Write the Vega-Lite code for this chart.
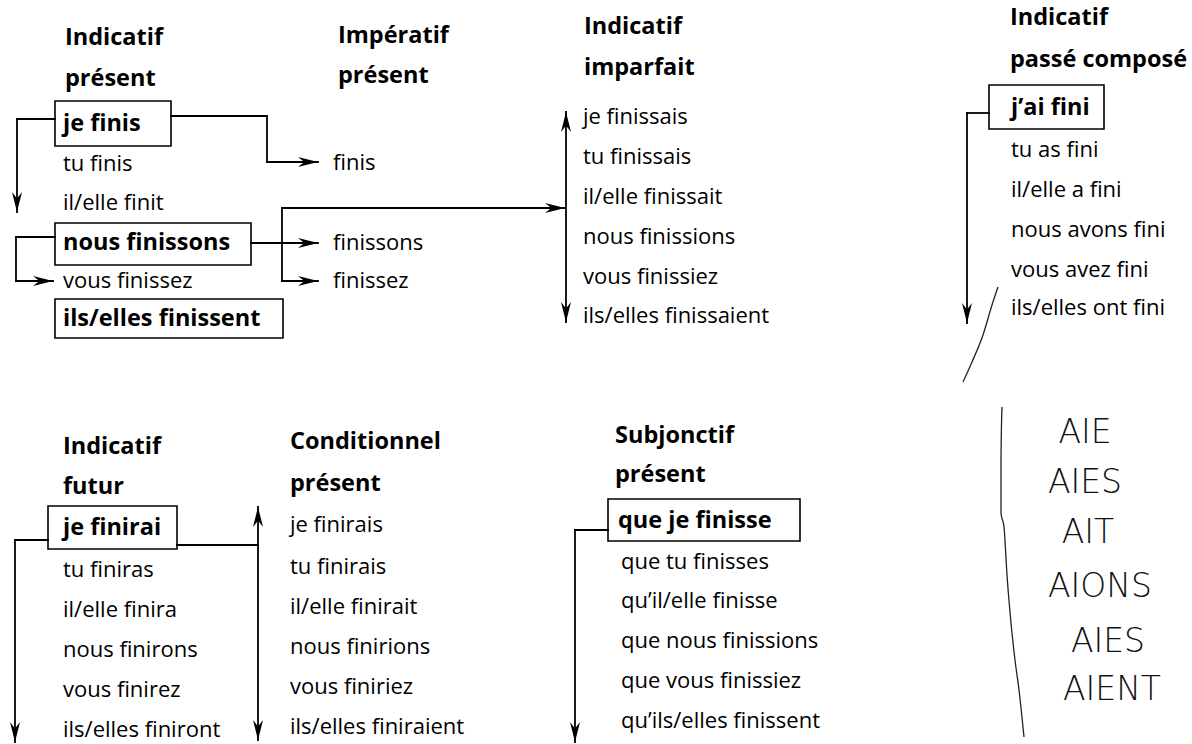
{
  "$schema": "https://vega.github.io/schema/vega-lite/v6.json",
  "width": 1192,
  "height": 744,
  "padding": 0,
  "autosize": {"type": "fit", "contains": "padding"},
  "background": "white",
  "config": {"view": {"stroke": null}},
  "datasets": {
    "headers": [
      {"x": 65, "y": 38, "t": "Indicatif"},
      {"x": 65, "y": 79, "t": "présent"},
      {"x": 338, "y": 36, "t": "Impératif"},
      {"x": 338, "y": 76, "t": "présent"},
      {"x": 584, "y": 27, "t": "Indicatif"},
      {"x": 584, "y": 68, "t": "imparfait"},
      {"x": 1010, "y": 18, "t": "Indicatif"},
      {"x": 1010, "y": 60, "t": "passé composé"},
      {"x": 63, "y": 447, "t": "Indicatif"},
      {"x": 63, "y": 487, "t": "futur"},
      {"x": 290, "y": 442, "t": "Conditionnel"},
      {"x": 290, "y": 484, "t": "présent"},
      {"x": 615, "y": 436, "t": "Subjonctif"},
      {"x": 615, "y": 475, "t": "présent"}
    ],
    "boxed": [
      {"x": 63, "y": 124, "t": "je finis"},
      {"x": 63, "y": 243, "t": "nous finissons"},
      {"x": 63, "y": 319, "t": "ils/elles finissent"},
      {"x": 1011, "y": 108, "t": "j’ai fini"},
      {"x": 63, "y": 528, "t": "je finirai"},
      {"x": 618, "y": 521, "t": "que je finisse"}
    ],
    "forms": [
      {"x": 63, "y": 164, "t": "tu finis"},
      {"x": 63, "y": 203, "t": "il/elle finit"},
      {"x": 63, "y": 281, "t": "vous finissez"},
      {"x": 333, "y": 163, "t": "finis"},
      {"x": 333, "y": 243, "t": "finissons"},
      {"x": 333, "y": 281, "t": "finissez"},
      {"x": 583, "y": 117, "t": "je finissais"},
      {"x": 583, "y": 157, "t": "tu finissais"},
      {"x": 583, "y": 197, "t": "il/elle finissait"},
      {"x": 583, "y": 237, "t": "nous finissions"},
      {"x": 583, "y": 277, "t": "vous finissiez"},
      {"x": 583, "y": 316, "t": "ils/elles finissaient"},
      {"x": 1011, "y": 150, "t": "tu as fini"},
      {"x": 1011, "y": 190, "t": "il/elle a fini"},
      {"x": 1011, "y": 230, "t": "nous avons fini"},
      {"x": 1011, "y": 270, "t": "vous avez fini"},
      {"x": 1011, "y": 308, "t": "ils/elles ont fini"},
      {"x": 63, "y": 570, "t": "tu finiras"},
      {"x": 63, "y": 610, "t": "il/elle finira"},
      {"x": 63, "y": 650, "t": "nous finirons"},
      {"x": 63, "y": 690, "t": "vous finirez"},
      {"x": 63, "y": 730, "t": "ils/elles finiront"},
      {"x": 290, "y": 525, "t": "je finirais"},
      {"x": 290, "y": 567, "t": "tu finirais"},
      {"x": 290, "y": 607, "t": "il/elle finirait"},
      {"x": 290, "y": 647, "t": "nous finirions"},
      {"x": 290, "y": 687, "t": "vous finiriez"},
      {"x": 290, "y": 727, "t": "ils/elles finiraient"},
      {"x": 621, "y": 562, "t": "que tu finisses"},
      {"x": 621, "y": 601, "t": "qu’il/elle finisse"},
      {"x": 621, "y": 641, "t": "que nous finissions"},
      {"x": 621, "y": 681, "t": "que vous finissiez"},
      {"x": 621, "y": 721, "t": "qu’ils/elles finissent"}
    ],
    "boxes": [
      {"x": 55, "x2": 171, "y": 101, "y2": 146},
      {"x": 55, "x2": 251, "y": 223, "y2": 265},
      {"x": 55, "x2": 283, "y": 299, "y2": 338},
      {"x": 989, "x2": 1104, "y": 85, "y2": 129},
      {"x": 48, "x2": 177, "y": 506, "y2": 549},
      {"x": 608, "x2": 800, "y": 499, "y2": 541}
    ],
    "segments": [
      {"x": 55, "y": 119, "x2": 17, "y2": 119},
      {"x": 17, "y": 119, "x2": 17, "y2": 212},
      {"x": 171, "y": 116, "x2": 267, "y2": 116},
      {"x": 267, "y": 116, "x2": 267, "y2": 162},
      {"x": 267, "y": 162, "x2": 318, "y2": 162},
      {"x": 55, "y": 237, "x2": 16, "y2": 237},
      {"x": 16, "y": 237, "x2": 16, "y2": 281},
      {"x": 16, "y": 281, "x2": 53, "y2": 281},
      {"x": 251, "y": 243, "x2": 318, "y2": 243},
      {"x": 282, "y": 208, "x2": 565, "y2": 208},
      {"x": 282, "y": 208, "x2": 282, "y2": 281},
      {"x": 282, "y": 281, "x2": 318, "y2": 281},
      {"x": 566, "y": 112, "x2": 566, "y2": 322},
      {"x": 989, "y": 113, "x2": 967, "y2": 113},
      {"x": 967, "y": 113, "x2": 967, "y2": 323},
      {"x": 48, "y": 540, "x2": 15, "y2": 540},
      {"x": 15, "y": 540, "x2": 15, "y2": 742},
      {"x": 177, "y": 545, "x2": 258, "y2": 545},
      {"x": 258, "y": 507, "x2": 258, "y2": 740},
      {"x": 608, "y": 530, "x2": 575, "y2": 530},
      {"x": 575, "y": 530, "x2": 575, "y2": 742}
    ],
    "heads": [
      {"x": 318, "y": 162, "dir": "right"},
      {"x": 53, "y": 281, "dir": "right"},
      {"x": 318, "y": 243, "dir": "right"},
      {"x": 318, "y": 281, "dir": "right"},
      {"x": 565, "y": 208, "dir": "right"},
      {"x": 17, "y": 212, "dir": "down"},
      {"x": 566, "y": 322, "dir": "down"},
      {"x": 967, "y": 323, "dir": "down"},
      {"x": 15, "y": 742, "dir": "down"},
      {"x": 258, "y": 740, "dir": "down"},
      {"x": 575, "y": 742, "dir": "down"},
      {"x": 566, "y": 112, "dir": "up"},
      {"x": 258, "y": 507, "dir": "up"}
    ],
    "pencil": [
      {"x": 1002, "y": 407, "k": "bracket"},
      {"x": 1001, "y": 460, "k": "bracket"},
      {"x": 1001, "y": 513, "k": "bracket"},
      {"x": 1004, "y": 527, "k": "bracket"},
      {"x": 1007, "y": 575, "k": "bracket"},
      {"x": 1011, "y": 623, "k": "bracket"},
      {"x": 1015, "y": 660, "k": "bracket"},
      {"x": 1019, "y": 690, "k": "bracket"},
      {"x": 1024, "y": 737, "k": "bracket"},
      {"x": 998, "y": 287, "k": "stroke"},
      {"x": 992, "y": 305, "k": "stroke"},
      {"x": 983, "y": 335, "k": "stroke"},
      {"x": 972, "y": 362, "k": "stroke"},
      {"x": 963, "y": 382, "k": "stroke"}
    ],
    "hand": [
      {"x": 1085, "y": 433, "t": "AIE"},
      {"x": 1085, "y": 483, "t": "AIES"},
      {"x": 1088, "y": 533, "t": "AIT"},
      {"x": 1100, "y": 587, "t": "AIONS"},
      {"x": 1108, "y": 642, "t": "AIES"},
      {"x": 1112, "y": 690, "t": "AIENT"}
    ]
  },
  "encoding": {
    "x": {"field": "x", "type": "quantitative", "scale": {"domain": [0, 1192], "nice": false, "zero": false}, "axis": null},
    "y": {"field": "y", "type": "quantitative", "scale": {"domain": [0, 744], "nice": false, "zero": false, "reverse": true}, "axis": null}
  },
  "layer": [
    {
      "data": {"name": "boxes"},
      "mark": {"type": "rect", "fill": null, "stroke": "#000", "strokeWidth": 1.6},
      "encoding": {"x2": {"field": "x2"}, "y2": {"field": "y2"}}
    },
    {
      "data": {"name": "segments"},
      "mark": {"type": "rule", "color": "#000", "strokeWidth": 1.8, "strokeCap": "square"},
      "encoding": {"x2": {"field": "x2"}, "y2": {"field": "y2"}}
    },
    {
      "data": {"name": "heads"},
      "mark": {"type": "point", "filled": true, "color": "#000", "opacity": 1, "strokeWidth": 0, "size": 1600},
      "encoding": {
        "shape": {
          "field": "dir", "type": "nominal", "legend": null,
          "scale": {
            "domain": ["right", "down", "up"],
            "range": [
              "M 0 0 L -1 -0.25 L -0.68 0 L -1 0.25 Z",
              "M 0 0 L -0.25 -1 L 0 -0.68 L 0.25 -1 Z",
              "M 0 0 L -0.25 1 L 0 0.68 L 0.25 1 Z"
            ]
          }
        }
      }
    },
    {
      "data": {"name": "pencil"},
      "mark": {"type": "line", "color": "#222", "strokeWidth": 1.3, "interpolate": "monotone"},
      "encoding": {"detail": {"field": "k"}, "order": {"field": "y", "type": "quantitative"}}
    },
    {
      "data": {"name": "headers"},
      "mark": {"type": "text", "align": "left", "baseline": "middle", "font": "Open Sans", "fontWeight": "bold", "fontSize": 23.5, "color": "#000"},
      "encoding": {"text": {"field": "t"}}
    },
    {
      "data": {"name": "boxed"},
      "mark": {"type": "text", "align": "left", "baseline": "middle", "font": "Open Sans", "fontWeight": "bold", "fontSize": 23.5, "color": "#000"},
      "encoding": {"text": {"field": "t"}}
    },
    {
      "data": {"name": "forms"},
      "mark": {"type": "text", "align": "left", "baseline": "middle", "font": "Open Sans", "fontSize": 22, "color": "#000"},
      "encoding": {"text": {"field": "t"}}
    },
    {
      "data": {"name": "hand"},
      "mark": {"type": "text", "align": "center", "baseline": "middle", "font": "DejaVu Sans", "fontWeight": 200, "fontSize": 33, "color": "#111"},
      "encoding": {"text": {"field": "t"}}
    }
  ]
}
